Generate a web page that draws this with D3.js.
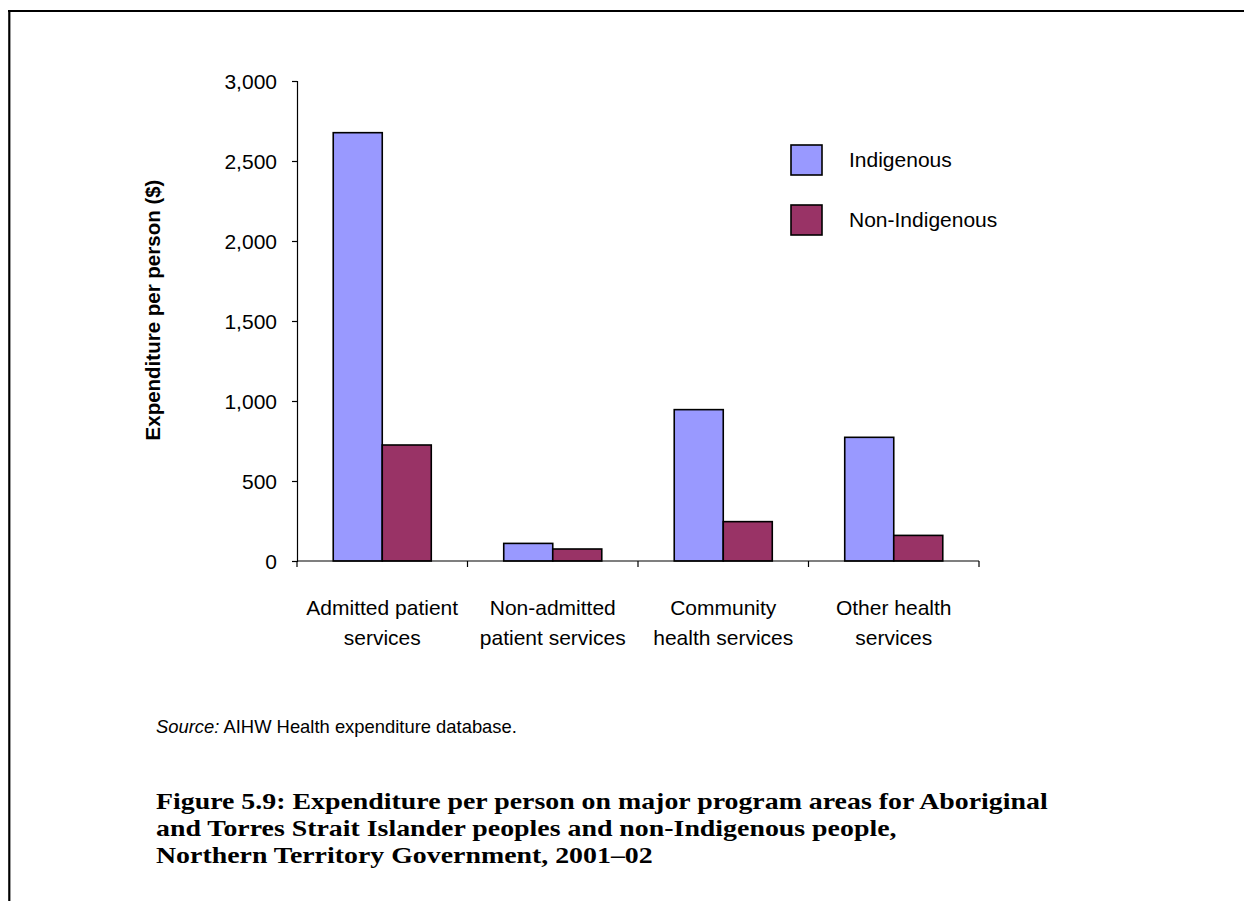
<!DOCTYPE html>
<html>
<head>
<meta charset="utf-8">
<script src="https://cdn.jsdelivr.net/npm/d3@7"></script>
<style>
  html, body { margin: 0; padding: 0; background: #fff; }
  svg { display: block; }
</style>
</head>
<body>
<svg id="chart" width="1244" height="901"></svg>
<script>
// Program areas (two-line labels) and spending per person, in dollars
const categories = [
  ["Admitted patient", "services"],
  ["Non-admitted", "patient services"],
  ["Community", "health services"],
  ["Other health", "services"]
];
const seriesNames = ["Indigenous", "Non-Indigenous"];
const indigenous = [2677, 110, 946, 773];
const nonIndigenous = [725, 75, 246, 160];
const yTicks = [0, 500, 1000, 1500, 2000, 2500, 3000];
const colors = ["#9999FF", "#993366"];

const captionLines = [
  "Figure 5.9: Expenditure per person on major program areas for Aboriginal",
  "and Torres Strait Islander peoples and non-Indigenous people,",
  "Northern Territory Government, 2001\u201302"
];

const svg = d3.select("#chart");
const sans = "'Liberation Sans', Arial, sans-serif";
const labelSize = 21;

// page frame: rule along the top and down the left side
svg.append("line").attr("x1", 8).attr("x2", 1244).attr("y1", 11).attr("y2", 11)
  .attr("stroke", "#000").attr("stroke-width", 2.2);
svg.append("line").attr("x1", 9.3).attr("x2", 9.3).attr("y1", 10).attr("y2", 901)
  .attr("stroke", "#000").attr("stroke-width", 2.2);

const plot = { left: 297, right: 979, top: 81, bottom: 561 };

const x0 = d3.scaleBand()
  .domain(d3.range(categories.length))
  .range([plot.left, plot.right])
  .paddingInner(0).paddingOuter(0);

const innerFrac = 0.575;
const x1 = d3.scaleBand()
  .domain(seriesNames)
  .range([0, x0.bandwidth() * innerFrac]);
const innerOffset = (x0.bandwidth() * (1 - innerFrac)) / 2;

const y = d3.scaleLinear().domain([0, 3000]).range([plot.bottom, plot.top]);

// y axis
const yAxis = svg.append("g")
  .attr("transform", `translate(${plot.left},0)`)
  .call(d3.axisLeft(y).tickValues(yTicks).tickSize(5).tickPadding(15)
    .tickFormat(d3.format(",")));
yAxis.select(".domain").attr("stroke", "#000").attr("stroke-width", 1.2);
yAxis.selectAll(".tick line").attr("stroke", "#000").attr("stroke-width", 1.2);
yAxis.selectAll(".tick text")
  .attr("font-family", sans).attr("font-size", labelSize).attr("fill", "#000")
  .attr("dy", "0.36em");

// bars
const rows = seriesNames.map((name, s) => ({
  name, values: s === 0 ? indigenous : nonIndigenous, color: colors[s]
}));
rows.forEach(row => {
  svg.append("g").selectAll("rect")
    .data(row.values)
    .join("rect")
    .attr("x", (d, i) => x0(i) + innerOffset + x1(row.name))
    .attr("y", d => y(d))
    .attr("width", x1.bandwidth())
    .attr("height", d => y(0) - y(d))
    .attr("fill", row.color)
    .attr("stroke", "#000")
    .attr("stroke-width", 1.6);
});

// x axis with ticks at category boundaries
const boundaries = d3.range(categories.length + 1).map(i =>
  i < categories.length ? x0(i) : plot.right);
svg.append("line")
  .attr("x1", plot.left).attr("x2", plot.right)
  .attr("y1", plot.bottom).attr("y2", plot.bottom)
  .attr("stroke", "#000").attr("stroke-width", 1.2);
svg.append("g").selectAll("line")
  .data(boundaries)
  .join("line")
  .attr("x1", d => d).attr("x2", d => d)
  .attr("y1", plot.bottom).attr("y2", plot.bottom + 6)
  .attr("stroke", "#000").attr("stroke-width", 1.2);

// category labels
const catG = svg.append("g");
categories.forEach((lines, i) => {
  const t = catG.append("text")
    .attr("text-anchor", "middle")
    .attr("font-family", sans).attr("font-size", labelSize).attr("fill", "#000");
  lines.forEach((ln, j) => {
    t.append("tspan")
      .attr("x", x0(i) + x0.bandwidth() / 2)
      .attr("y", 615 + j * 30)
      .text(ln);
  });
});

// y axis title
svg.append("text")
  .attr("transform", "translate(160,310) rotate(-90)")
  .attr("text-anchor", "middle")
  .attr("font-family", sans).attr("font-size", 20.5).attr("font-weight", "bold")
  .attr("fill", "#000")
  .text("Expenditure per person ($)");

// legend
const legend = svg.append("g");
rows.forEach((row, s) => {
  const ly = 145 + s * 60;
  legend.append("rect")
    .attr("x", 791).attr("y", ly).attr("width", 31).attr("height", 30)
    .attr("fill", row.color).attr("stroke", "#000").attr("stroke-width", 1.6);
  legend.append("text")
    .attr("x", 849).attr("y", ly + 22)
    .attr("font-family", sans).attr("font-size", labelSize).attr("fill", "#000")
    .text(row.name);
});

// source note
const src = svg.append("text")
  .attr("x", 156).attr("y", 733)
  .attr("font-family", sans).attr("font-size", 18.4).attr("fill", "#000");
src.append("tspan").attr("font-style", "italic").text("Source:");
src.append("tspan").text(" AIHW Health expenditure database.");

// figure caption: fixed size, widened horizontally so the first line spans its column
const serif = "'Liberation Serif', 'Times New Roman', serif";
const capSize = 23.2;
const capG = svg.append("g");
const probe = capG.append("text")
  .attr("font-family", serif).attr("font-weight", "bold").attr("font-size", capSize)
  .text(captionLines[0]);
const probeLen = probe.node().getComputedTextLength();
probe.remove();
const sx = 892 / probeLen;
capG.attr("transform", `translate(156,0) scale(${sx},1)`);
captionLines.forEach((ln, i) => {
  capG.append("text")
    .attr("x", 0).attr("y", 809 + i * 27)
    .attr("font-family", serif).attr("font-weight", "bold")
    .attr("font-size", capSize)
    .attr("fill", "#000")
    .text(ln);
});
</script>
</body>
</html>
